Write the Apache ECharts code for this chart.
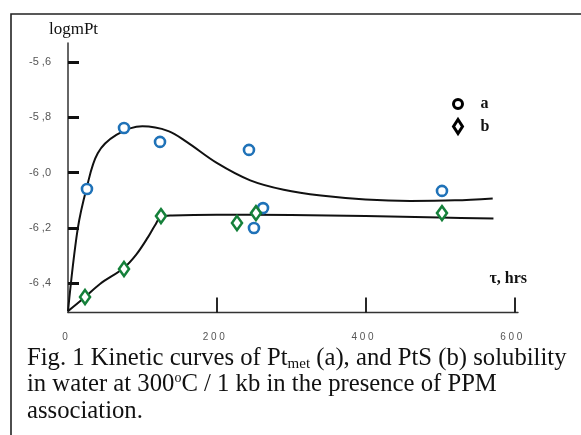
<!DOCTYPE html>
<html>
<head>
<meta charset="utf-8">
<script src="https://cdn.jsdelivr.net/npm/echarts@6/dist/echarts.min.js"></script>
<style>html,body{margin:0;padding:0;background:#fff;}#c{width:581px;height:435px;}</style>
</head>
<body>
<div id="c"></div>
<script>
// measured points, series a (Pt met) and b (PtS)
const pointsA = [[25.5,-6.059],[75.3,-5.839],[123.7,-5.889],[243.3,-5.918],[262.2,-6.128],[250,-6.2],[502.8,-6.066]];
const pointsB = [[22.9,-6.449],[75.3,-6.348],[125,-6.157],[227.2,-6.182],[252.7,-6.146],[502.8,-6.146]];
// fitted kinetic curves
const curveA = [[0,-6.5],[13,-6.204],[25,-6.056],[40,-5.93],[65,-5.864],[100,-5.833],[135,-5.85],[160,-5.89],[200,-5.965],[245,-6.028],[290,-6.062],[340,-6.083],[400,-6.097],[460,-6.102],[520,-6.1],[571,-6.093]];
const curveB = [[0,-6.5],[23,-6.449],[43,-6.402],[75,-6.344],[92,-6.295],[108,-6.231],[117,-6.19],[125,-6.16],[140,-6.155],[200,-6.152],[300,-6.153],[400,-6.157],[500,-6.162],[572,-6.166]];
const xTicks = [0,200,400,600];
const yTicks = [-6.4,-6.2,-6.0,-5.8,-5.6];
const legendNames = ['a','b'];

const chart = echarts.init(document.getElementById('c'), null, {renderer:'canvas'});
const serif = "'Liberation Serif','Times New Roman',serif";
const sans = "'Liberation Sans',Arial,sans-serif";

chart.setOption({
  animation:false,
  backgroundColor:'#fff',
  title:{
    left:27, top:345, padding:0,
    text:'{t|Fig. 1 Kinetic curves of Pt}{s|met}{t| (a), and PtS (b) solubility}\n{t|in water at 300}{p|o}{t|C / 1 kb in the presence of PPM}\n{t|association.}',
    textStyle:{
      fontFamily:serif, fontWeight:'normal', fontSize:24.7, color:'#111', lineHeight:26.5,
      rich:{
        t:{fontFamily:serif, fontSize:24.7, lineHeight:26.5, color:'#111', verticalAlign:'middle'},
        s:{fontFamily:serif, fontSize:15, lineHeight:14, color:'#111', verticalAlign:'bottom'},
        p:{fontFamily:serif, fontSize:14, lineHeight:12, color:'#111', verticalAlign:'top'}
      }
    }
  },
  legend:{
    orient:'vertical', left:452, top:96, padding:0,
    itemWidth:9, itemHeight:14, itemGap:6,
    data:[
      {name:legendNames[0], icon:'circle'},
      {name:legendNames[1], icon:'diamond'}
    ],
    itemStyle:{color:'#fff', borderColor:'#000', borderWidth:3},
    textStyle:{fontFamily:serif, fontWeight:'bold', fontSize:16, color:'#111', lineHeight:14, padding:[0,0,0,13]}
  },
  grid:{left:68, right:63, top:43, bottom:122.5, containLabel:false, outerBoundsMode:'none'},
  xAxis:{
    type:'value', min:0, max:605,
    name:'τ, hrs', nameLocation:'end', nameGap:9,
    nameTextStyle:{fontFamily:serif, fontWeight:'bold', fontSize:16, color:'#111', align:'right', verticalAlign:'bottom', padding:[0,0,26,0]},
    axisLine:{show:true, onZero:false, lineStyle:{color:'#333', width:1.4}},
    axisTick:{show:true, inside:true, length:15, customValues:[200,400,600], lineStyle:{color:'#111', width:1.8}},
    axisLabel:{show:true, customValues:xTicks, margin:20, fontFamily:sans, fontSize:10, color:'#555', padding:[0,6,0,0],
      formatter:v => String(v).split('').join(' ')},
    splitLine:{show:false}
  },
  yAxis:{
    type:'value', min:-6.505, max:-5.532,
    name:'logmPt', nameLocation:'end', nameGap:5,
    nameTextStyle:{fontFamily:serif, fontSize:17, color:'#111', padding:[0,0,0,11]},
    axisLine:{show:true, onZero:false, lineStyle:{color:'#333', width:1.5}},
    axisTick:{show:true, inside:true, length:11, customValues:yTicks, lineStyle:{color:'#111', width:3}},
    axisLabel:{show:true, customValues:yTicks, margin:17, fontFamily:sans, fontSize:11, color:'#555',
      formatter:v => v.toFixed(1).replace('.', ' ,')},
    splitLine:{show:false}
  },
  graphic:[{
    type:'polyline', silent:true, z:100,
    shape:{points:[[11,435],[11,14],[581,14]]},
    style:{stroke:'#222', lineWidth:1.6, fill:null}
  }],
  series:[
    {name:'curveA', type:'line', data:curveA, showSymbol:false, smooth:0.35,
      lineStyle:{color:'#111', width:2}, z:2},
    {name:'curveB', type:'line', data:curveB, showSymbol:false, smooth:0.35,
      lineStyle:{color:'#111', width:2}, z:2},
    {name:'a', type:'scatter', data:pointsA, symbol:'circle', symbolSize:10,
      itemStyle:{color:'#fff', borderColor:'#1f72b8', borderWidth:2.6, opacity:1}, z:3},
    {name:'b', type:'scatter', data:pointsB, symbol:'diamond', symbolSize:[10,14],
      itemStyle:{color:'#fff', borderColor:'#15803a', borderWidth:2.6, opacity:1}, z:3}
  ]
});
</script>
</body>
</html>
